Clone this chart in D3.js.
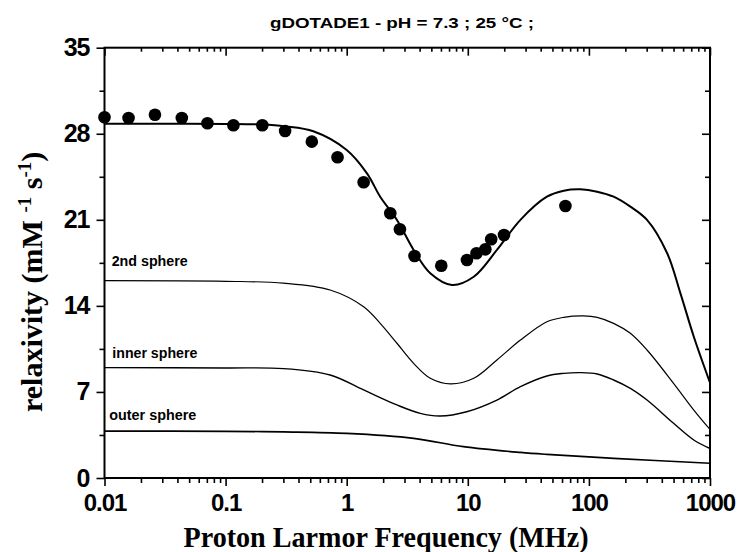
<!DOCTYPE html>
<html>
<head>
<meta charset="utf-8">
<script src="https://cdn.jsdelivr.net/npm/d3@7"></script>
<style>
  html, body { margin: 0; padding: 0; background: #fff; }
  svg { display: block; }
</style>
</head>
<body>
<svg id="chart" width="742" height="552"></svg>
<script>
// ---------- data ----------
const titleText = "gDOTADE1 - pH = 7.3 ; 25 °C ;";
const xTickValues = [0.01, 0.1, 1, 10, 100, 1000];
const xTickLabels = ["0.01", "0.1", "1", "10", "100", "1000"];
const yTickValues = [0, 7, 14, 21, 28, 35];
const yTickLabels = ["0", "7", "14", "21", "28", "35"];

// measured relaxivity (points)
const pointFreq = [0.01, 0.0158, 0.0261, 0.0435, 0.0708, 0.116, 0.201, 0.31, 0.515, 0.84, 1.38,
                   2.29, 2.75, 3.63, 6.04, 9.84, 11.8, 13.96, 15.6, 19.9, 64];
const pointVal  = [29.34, 29.28, 29.55, 29.28, 28.85, 28.69, 28.69, 28.23, 27.36, 26.09, 24.05,
                   21.53, 20.23, 18.06, 17.27, 17.73, 18.28, 18.6, 19.42, 19.77, 22.12];

// fitted total curve
const totalFreq = [0.01, 0.03, 0.1, 0.2, 0.31, 0.53, 1.0, 1.47, 1.89, 2.6, 3.57, 4.9, 7.4, 11.2, 17.4, 27.2, 45, 62, 85, 117, 160, 220, 302, 443, 570, 735, 1000];
const totalVal  = [28.82, 28.82, 28.8, 28.75, 28.6, 28.2, 26.68, 24.78, 22.88, 20.99, 18.55, 16.65, 15.7, 16.37, 18.55, 21.0, 22.88, 23.37, 23.48, 23.29, 22.88, 22.07, 20.99, 18.28, 15.02, 11.49, 7.75];

// 2nd sphere contribution
const secondFreq = [0.01, 0.1, 0.3, 0.73, 1.38, 1.89, 2.6, 3.57, 4.9, 7.2, 11.2, 17.4, 27.2, 45, 62, 90, 117, 160, 220, 302, 500, 735, 1000];
const secondVal  = [16.05, 16.0, 15.85, 15.29, 13.93, 12.58, 10.96, 9.33, 8.11, 7.65, 8.11, 9.6, 11.22, 12.71, 13.07, 13.18, 13.07, 12.58, 11.77, 10.41, 7.7, 5.53, 3.95];

// inner sphere contribution
const innerFreq = [0.01, 0.1, 0.3, 0.73, 1.38, 2.6, 4.05, 5.9, 9.8, 17.4, 27.2, 45, 62, 85, 117, 160, 220, 302, 500, 735, 1000];
const innerVal  = [8.98, 8.95, 8.9, 8.38, 7.16, 5.94, 5.26, 5.04, 5.39, 6.34, 7.43, 8.3, 8.51, 8.57, 8.46, 7.97, 7.29, 6.34, 4.45, 3.09, 2.4];

// outer sphere contribution
const outerFreq = [0.01, 0.1, 0.3, 1.0, 3.57, 9.2, 27.2, 45, 160, 1000];
const outerVal  = [3.82, 3.8, 3.75, 3.63, 3.23, 2.55, 2.08, 1.92, 1.6, 1.2];

const curveLabels = ["2nd sphere", "inner sphere", "outer sphere"];

// ---------- drawing ----------
const svg = d3.select("#chart");
const pLeft = 104.5, pRight = 710, pTop = 47.7, pBottom = 478;

const x = d3.scaleLog().domain([0.01, 1000]).range([pLeft, pRight]);
const y = d3.scaleLinear().domain([0, 35]).range([pBottom, pTop]);

const sansB = "'Liberation Sans', Arial, sans-serif";
const serif = "'Liberation Serif', 'Times New Roman', 'DejaVu Serif', serif";

// minor ticks
const xMinor = [];
for (let e = -2; e < 3; e++) for (let k = 2; k <= 9; k++) xMinor.push(k * Math.pow(10, e));
const yMinor = d3.range(3.5, 35, 7);

function styleAxis(g) {
  g.select(".domain").remove();
  g.selectAll(".tick line").attr("stroke", "#000").attr("stroke-width", 1.6);
}

// bottom axis (outward)
svg.append("g").attr("transform", `translate(0,${pBottom})`)
  .call(d3.axisBottom(x).tickValues(xTickValues).tickSize(8).tickPadding(8)
    .tickFormat((d, i) => xTickLabels[i]))
  .call(styleAxis)
  .call(g => g.selectAll("text").attr("font-family", sansB).attr("font-weight", "bold")
    .attr("font-size", 24).attr("fill", "#000").attr("letter-spacing", -1));
svg.append("g").attr("transform", `translate(0,${pBottom})`)
  .call(d3.axisBottom(x).tickValues(xMinor).tickSize(5).tickFormat(""))
  .call(styleAxis);

// top axis (inward)
svg.append("g").attr("transform", `translate(0,${pTop})`)
  .call(d3.axisBottom(x).tickValues(xTickValues).tickSize(8).tickFormat(""))
  .call(styleAxis);
svg.append("g").attr("transform", `translate(0,${pTop})`)
  .call(d3.axisBottom(x).tickValues(xMinor).tickSize(4).tickFormat(""))
  .call(styleAxis);

// left axis (outward)
svg.append("g").attr("transform", `translate(${pLeft},0)`)
  .call(d3.axisLeft(y).tickValues(yTickValues).tickSize(8).tickPadding(7)
    .tickFormat((d, i) => yTickLabels[i]))
  .call(styleAxis)
  .call(g => g.selectAll("text").attr("font-family", sansB).attr("font-weight", "bold")
    .attr("font-size", 25).attr("fill", "#000").attr("letter-spacing", -1));
svg.append("g").attr("transform", `translate(${pLeft},0)`)
  .call(d3.axisLeft(y).tickValues(yMinor).tickSize(5).tickFormat(""))
  .call(styleAxis);

// right axis (inward)
svg.append("g").attr("transform", `translate(${pRight},0)`)
  .call(d3.axisLeft(y).tickValues(yTickValues).tickSize(8).tickFormat(""))
  .call(styleAxis);
svg.append("g").attr("transform", `translate(${pRight},0)`)
  .call(d3.axisLeft(y).tickValues(yMinor).tickSize(5).tickFormat(""))
  .call(styleAxis);

// frame
svg.append("rect").attr("x", pLeft).attr("y", pTop)
  .attr("width", pRight - pLeft).attr("height", pBottom - pTop)
  .attr("fill", "none").attr("stroke", "#000").attr("stroke-width", 2);

// curves
const line = d3.line().x(d => x(d[0])).y(d => y(d[1])).curve(d3.curveCatmullRom.alpha(0.5));
const series = [
  { f: totalFreq, v: totalVal, w: 2 },
  { f: secondFreq, v: secondVal, w: 1.2 },
  { f: innerFreq, v: innerVal, w: 1.4 },
  { f: outerFreq, v: outerVal, w: 1.7 }
];
series.forEach(s => {
  svg.append("path").datum(s.f.map((f, i) => [f, s.v[i]]))
    .attr("d", line).attr("fill", "none").attr("stroke", "#000")
    .attr("stroke-width", s.w).attr("stroke-linejoin", "round");
});

// points
svg.append("g").selectAll("circle").data(pointFreq.map((f, i) => [f, pointVal[i]]))
  .join("circle").attr("cx", d => x(d[0])).attr("cy", d => y(d[1])).attr("r", 6.3)
  .attr("fill", "#000");

// curve labels
const labelPos = [[111.7, 266, 76], [112.3, 357.5, 85], [109.3, 420, 87]];
curveLabels.forEach((t, i) => {
  svg.append("text").attr("x", labelPos[i][0]).attr("y", labelPos[i][1])
    .attr("font-family", sansB).attr("font-weight", "bold").attr("font-size", 14)
    .attr("textLength", labelPos[i][2]).attr("lengthAdjust", "spacingAndGlyphs")
    .text(t);
});

// title
svg.append("text").attr("x", 270).attr("y", 28)
  .attr("font-family", sansB).attr("font-weight", "bold").attr("font-size", 14)
  .attr("textLength", 264).attr("lengthAdjust", "spacingAndGlyphs")
  .text(titleText);

// x axis title
svg.append("text").attr("x", 183.5).attr("y", 546.5)
  .attr("font-family", serif).attr("font-weight", "bold").attr("font-size", 30)
  .attr("textLength", 405).attr("lengthAdjust", "spacingAndGlyphs")
  .text("Proton Larmor Frequency (MHz)");

// y axis title
const yt = svg.append("text").attr("transform", "translate(41.5,412) rotate(-90)")
  .attr("font-family", serif).attr("font-weight", "bold").attr("font-size", 30);
yt.append("tspan").text("relaxivity (mM ");
yt.append("tspan").attr("font-size", 19).attr("dy", -11).text("-1");
yt.append("tspan").attr("dy", 11).text(" s");
yt.append("tspan").attr("font-size", 19).attr("dy", -11).text("-1");
yt.append("tspan").attr("dy", 11).text(")");
</script>
</body>
</html>
